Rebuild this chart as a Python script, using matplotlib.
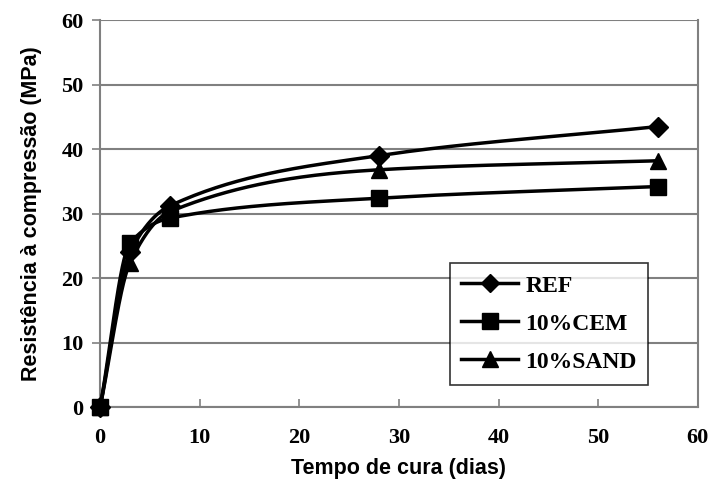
import numpy as np
import matplotlib.pyplot as plt

# data
dias = [0, 3, 7, 28, 56]
ref = [0, 24.0, 31.2, 39.0, 43.5]
cem = [0, 25.4, 29.3, 32.4, 34.2]
sand = [0, 22.4, 30.3, 36.8, 38.2]

series = [("REF", ref, "D", 10), ("10%CEM", cem, "s", 12), ("10%SAND", sand, "^", 12)]


def smooth(x, y, n=60):
    # monotone cubic through the points, only for drawing the curve
    x = np.asarray(x, float)
    y = np.asarray(y, float)
    h = np.diff(x)
    d = np.diff(y) / h
    m = np.zeros_like(y)
    m[0], m[-1] = d[0], d[-1]
    for i in range(1, len(x) - 1):
        if d[i - 1] * d[i] > 0:
            w1 = 2 * h[i] + h[i - 1]
            w2 = h[i] + 2 * h[i - 1]
            m[i] = (w1 + w2) / (w1 / d[i - 1] + w2 / d[i])
    xs, ys = [], []
    for i in range(len(x) - 1):
        t = np.linspace(0, 1, n)
        h00 = 2 * t**3 - 3 * t**2 + 1
        h10 = t**3 - 2 * t**2 + t
        h01 = -2 * t**3 + 3 * t**2
        h11 = t**3 - t**2
        xs.extend(x[i] + t * h[i])
        ys.extend(h00 * y[i] + h10 * h[i] * m[i] + h01 * y[i + 1] + h11 * h[i] * m[i + 1])
    return xs, ys


fig = plt.figure(figsize=(7.15, 4.9), dpi=100)
ax = fig.add_axes([0.14, 0.169, 0.836, 0.79])

tick_font = dict(family="Liberation Serif", weight="bold", size=16)

for name, vals, mk, ms in series:
    sx, sy = smooth(dias, vals)
    ax.plot(sx, sy, color="black", lw=2.5, zorder=3)
    ax.plot([], [], color="black", lw=2.5, marker=mk, ms=ms - 1, label=name)

# markers: CEM drawn last so its square sits on top at day 0
for name, vals, mk, ms in [series[0], series[2], series[1]]:
    ax.plot(dias, vals, linestyle="none", marker=mk, ms=ms, color="black", zorder=4, clip_on=False)

ax.set_xlim(0, 60)
ax.set_ylim(0, 60)
ax.set_xticks(range(0, 61, 10))
ax.set_yticks(range(0, 61, 10))
ax.yaxis.grid(True, color="#808080", lw=1.5)
ax.set_axisbelow(True)
ax.tick_params(axis="x", direction="in", length=6, color="#808080", width=1.2, pad=15)
ax.tick_params(axis="y", direction="out", length=6, color="#808080", width=1.2, pad=6)
for lab in ax.get_xticklabels() + ax.get_yticklabels():
    lab.set_fontproperties(tick_font)
for s in ["left", "right", "bottom"]:
    ax.spines[s].set_color("#808080")
    ax.spines[s].set_linewidth(1.5)
ax.spines["top"].set_visible(False)

ax.set_xlabel("Tempo de cura (dias)", fontsize=15.5, family="Liberation Sans", weight="bold", labelpad=7)
ax.set_ylabel("Resistência à compressão (MPa)", fontsize=15.5, family="Liberation Sans", weight="bold", labelpad=14)

leg = ax.legend(loc="lower right", bbox_to_anchor=(0.937, 0.028), frameon=True, fancybox=False,
                edgecolor="black", prop=dict(family="Liberation Serif", weight="bold", size=17),
                handlelength=2.4, borderpad=0.5, labelspacing=0.7, handletextpad=0.3)
leg.get_frame().set_linewidth(1.2)

plt.savefig("out.png", dpi=100)
